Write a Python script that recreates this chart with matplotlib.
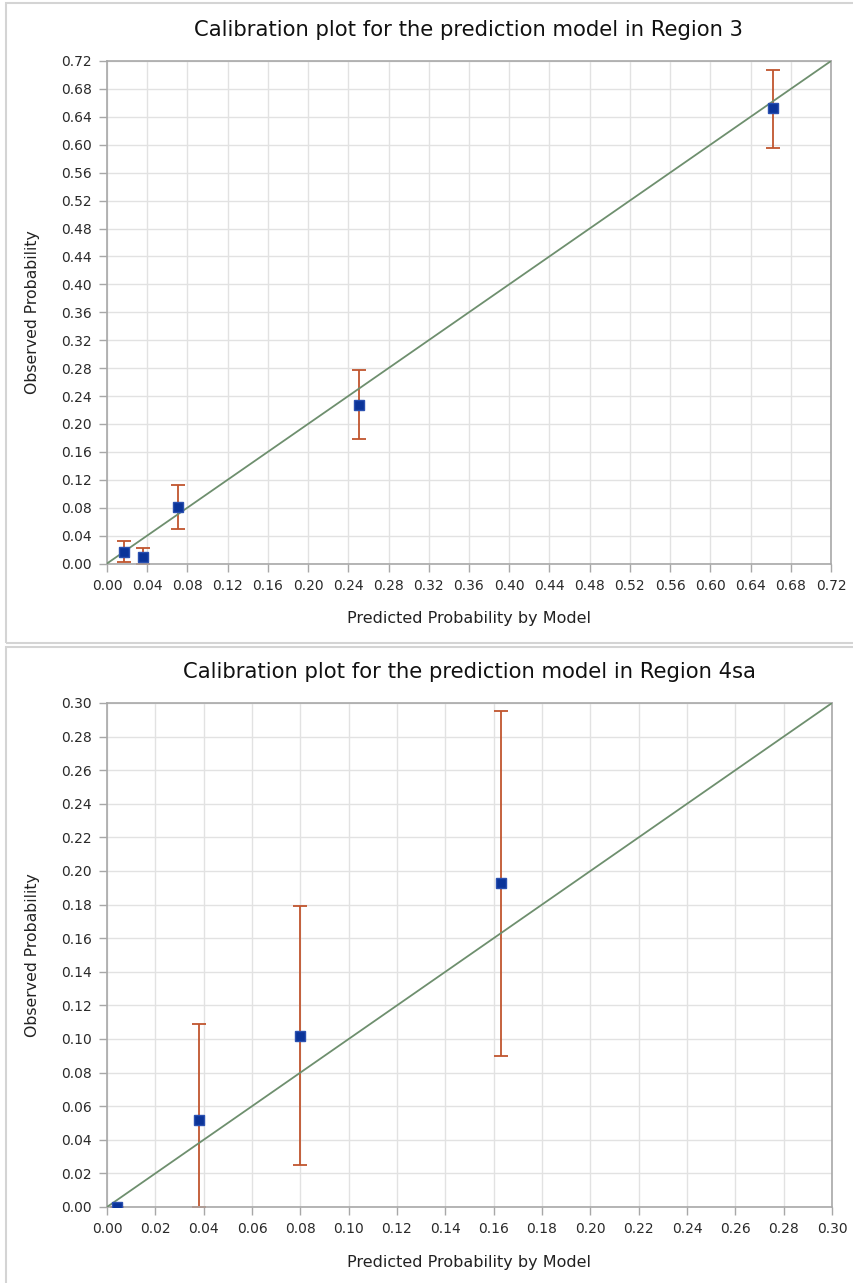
import matplotlib
matplotlib.use("Agg")
import matplotlib.pyplot as plt
import matplotlib.patches as mpatches
import numpy as np

# Region 3: predicted vs observed with 95% limits
r3_pred = [0.017, 0.036, 0.071, 0.251, 0.662]
r3_obs = [0.016, 0.010, 0.081, 0.227, 0.652]
r3_lower = [0.002, 0.000, 0.049, 0.178, 0.596]
r3_upper = [0.032, 0.022, 0.112, 0.277, 0.707]
r3_ticks = [round(0.04 * i, 2) for i in range(19)]

# Region 4sa
r4_pred = [0.004, 0.038, 0.080, 0.163]
r4_obs = [0.000, 0.052, 0.102, 0.193]
r4_lower = [0.000, 0.000, 0.025, 0.090]
r4_upper = [0.000, 0.109, 0.179, 0.295]
r4_ticks = [round(0.02 * i, 2) for i in range(16)]

W, H = 854, 1283
fig = plt.figure(figsize=(W / 100, H / 100), dpi=100)
plt.rcParams['font.family'] = ['DejaVu Sans']

# light panel frames around each graph
fig.add_artist(mpatches.Rectangle((6 / W, 1 - 643 / H), (W + 5) / W, 640 / H,
                                  transform=fig.transFigure, fill=False,
                                  edgecolor='#d4d4d4', linewidth=1.5))
fig.add_artist(mpatches.Rectangle((6 / W, -5 / H), (W + 5) / W, (H - 647 + 5) / H,
                                  transform=fig.transFigure, fill=False,
                                  edgecolor='#d4d4d4', linewidth=1.5))


def calib(ax, pred, obs, lo, hi, ticks, title, top_px, bottom_px):
    vmax = ticks[-1]
    ax.set_xlim(0, vmax)
    ax.set_ylim(0, vmax)
    ax.set_xticks(ticks)
    ax.set_yticks(ticks)
    ax.set_xticklabels(['%.2f' % t for t in ticks])
    ax.set_yticklabels(['%.2f' % t for t in ticks])
    ax.grid(True, color='#e2e2e2', linewidth=1.0)
    ax.set_axisbelow(True)
    for s in ax.spines.values():
        s.set_color('#a8a8a8')
        s.set_linewidth(1.2)
    ax.tick_params(length=6, width=1, color='#a8a8a8', labelsize=10,
                   labelcolor='#2a2a2a', pad=5)
    ax.plot([0, vmax], [0, vmax], color='#6e8f6e', linewidth=1.3, zorder=3)
    obs = np.array(obs)
    yerr = [obs - np.array(lo), np.array(hi) - obs]
    ax.errorbar(pred, obs, yerr=yerr, fmt='none', ecolor='#c0552e',
                elinewidth=1.3, capsize=4.8, capthick=1.3, zorder=2)
    ax.plot(pred, obs, 's', color='#0b3499', markeredgecolor='#2a50b0',
            markersize=7, zorder=4)
    cx = (107 + 831) / 2 / W
    fig.text(cx, 1 - (top_px - 31) / H, title, ha='center', va='center',
             fontsize=15.2, color='#111111')
    fig.text(cx, 1 - (bottom_px + 55) / H, 'Predicted Probability by Model',
             ha='center', va='center', fontsize=11.5, color='#222222')
    fig.text(33 / W, 1 - (top_px + bottom_px) / 2 / H, 'Observed Probability',
             ha='center', va='center', rotation=90, fontsize=11.3,
             color='#222222')


ax1 = fig.add_axes([107 / W, 1 - 563.5 / H, 724 / W, (563.5 - 61) / H])
calib(ax1, r3_pred, r3_obs, r3_lower, r3_upper, r3_ticks,
      'Calibration plot for the prediction model in Region 3', 61, 563.5)

ax2 = fig.add_axes([107 / W, 1 - 1207 / H, 725 / W, (1207 - 703) / H])
calib(ax2, r4_pred, r4_obs, r4_lower, r4_upper, r4_ticks,
      'Calibration plot for the prediction model in Region 4sa', 703, 1207)

fig.savefig('out.png', dpi=100)
